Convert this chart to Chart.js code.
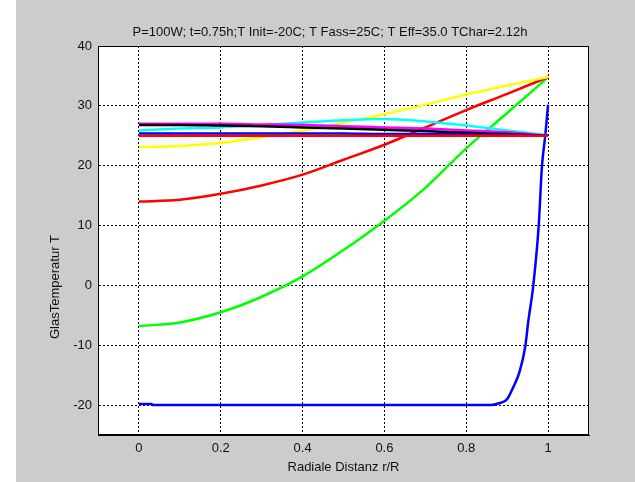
<!DOCTYPE html>
<html>
<head>
<meta charset="utf-8">
<script src="https://cdn.jsdelivr.net/npm/chart.js@4/dist/chart.umd.min.js"></script>
<style>
  html, body { margin: 0; padding: 0; background: #cccccc; }
  canvas { display: block; }
</style>
</head>
<body>
<canvas id="chart" width="635" height="482"></canvas>
<script>
const titleText = "P=100W; t=0.75h;T Init=-20C; T Fass=25C; T Eff=35.0 TChar=2.12h";
const xLabel = "Radiale Distanz r/R";
const yLabel = "GlasTemperatur T";

const xTicks = [0, 0.2, 0.4, 0.6, 0.8, 1];
const yTicks = [-20, -10, 0, 10, 20, 30, 40];

// radial positions for the smooth profiles
const rGrid = [0, 0.1, 0.2, 0.3, 0.4, 0.5, 0.6, 0.7, 0.8, 0.9, 1.0];

const tempGreen   = [-6.8, -6.2, -4.5, -1.9, 1.5, 5.9, 10.8, 16.3, 22.9, 28.8, 34.8];
const tempRed     = [14.0, 14.3, 15.3, 16.7, 18.5, 21.0, 23.5, 26.4, 29.3, 32.0, 34.8];
const tempYellow  = [23.1, 23.3, 23.8, 24.8, 25.8, 27.2, 28.6, 30.2, 31.9, 33.4, 34.8];
const tempCyan    = [25.9, 26.2, 26.4, 26.8, 27.2, 27.6, 27.8, 27.4, 26.7, 25.9, 25.1];
const tempMagenta = [27.0, 27.0, 27.0, 26.9, 26.8, 26.6, 26.4, 26.2, 25.9, 25.6, 25.0];
const tempBlack   = [26.8, 26.8, 26.7, 26.6, 26.4, 26.2, 26.0, 25.8, 25.5, 25.3, 25.0];
const tempBlue2   = [25.4, 25.4, 25.4, 25.4, 25.4, 25.4, 25.3, 25.3, 25.2, 25.1, 25.0];
const tempRed2    = [25.0, 25.0, 25.0, 25.0, 25.0, 25.0, 25.0, 25.0, 25.0, 25.0, 25.0];

// first profile has its own radial points (steep edge)
const rBlue1    = [0, 0.03, 0.035, 0.86, 0.88, 0.9, 0.915, 0.93, 0.944, 0.952, 0.963, 0.977, 0.985, 0.993, 1.0];
const tempBlue1 = [-19.8, -19.8, -20, -20, -19.7, -19.0, -17.0, -14.5, -10.3, -5.8, -0.5, 9.9, 19.9, 25.0, 30.2];

function pts(xs, ys) {
    return xs.map((x, i) => ({x: x, y: ys[i]}));
}

function line(data, color) {
    return {
        data: data,
        borderColor: color,
        backgroundColor: color,
        borderWidth: 2.5,
        pointRadius: 0,
        cubicInterpolationMode: 'monotone',
        fill: false
    };
}

const frame = {
    id: 'frame',
    beforeDraw(chart) {
        const ctx = chart.ctx;
        const a = chart.chartArea;
        ctx.save();
        ctx.fillStyle = '#cccccc';
        ctx.fillRect(0, 0, chart.width, chart.height);
        ctx.fillStyle = '#ffffff';
        ctx.fillRect(0, 0, 16, chart.height);
        ctx.fillRect(a.left, a.top, a.right - a.left, a.bottom - a.top);
        ctx.restore();
    },
    afterDraw(chart) {
        const ctx = chart.ctx;
        const a = chart.chartArea;
        ctx.save();
        ctx.strokeStyle = '#000000';
        ctx.lineWidth = 1;
        ctx.strokeRect(a.left + 0.5, a.top + 0.5, a.right - a.left - 1, a.bottom - a.top - 1);
        ctx.fillStyle = '#111111';
        ctx.font = '13px "Liberation Sans", Arial, sans-serif';
        ctx.textAlign = 'center';
        ctx.textBaseline = 'middle';
        ctx.fillText(titleText, 330, 32);
        ctx.fillText(xLabel, (a.left + a.right) / 2, 467);
        ctx.translate(55, 287);
        ctx.rotate(-Math.PI / 2);
        ctx.fillText(yLabel, 0, 0);
        ctx.restore();
    }
};

const gridOpts = {
    color: '#000000',
    lineWidth: 1,
    drawTicks: false
};

new Chart(document.getElementById('chart'), {
    type: 'line',
    data: {
        datasets: [
            line(pts(rGrid, tempRed2), '#ff0000'),
            line(pts(rGrid, tempBlue2), '#0000ff'),
            line(pts(rGrid, tempBlack), '#000000'),
            line(pts(rGrid, tempMagenta), '#ff00ff'),
            line(pts(rGrid, tempCyan), '#00ffff'),
            line(pts(rGrid, tempYellow), '#ffff00'),
            line(pts(rGrid, tempRed), '#ff0000'),
            line(pts(rGrid, tempGreen), '#00ff00'),
            line(pts(rBlue1, tempBlue1), '#0000ff')
        ]
    },
    options: {
        responsive: false,
        devicePixelRatio: 1,
        animation: false,
        layout: {
            padding: {top: 46, right: 46, bottom: 0, left: 0}
        },
        plugins: {
            legend: {display: false},
            tooltip: {enabled: false}
        },
        scales: {
            x: {
                type: 'linear',
                min: -0.1,
                max: 1.1,
                afterBuildTicks: (scale) => { scale.ticks = xTicks.map(v => ({value: v})); },
                afterFit: (scale) => { scale.height = 47; },
                grid: gridOpts,
                border: {display: true, color: '#000000', dash: [2, 2]},
                ticks: {
                    color: '#111111',
                    padding: 6,
                    maxRotation: 0,
                    font: {family: '"Liberation Sans", Arial, sans-serif', size: 13},
                    callback: (v) => String(Math.round(v * 10) / 10)
                }
            },
            y: {
                type: 'linear',
                min: -25,
                max: 40,
                afterBuildTicks: (scale) => { scale.ticks = yTicks.map(v => ({value: v})); },
                afterFit: (scale) => { scale.width = 98; },
                grid: gridOpts,
                border: {display: true, color: '#000000', dash: [2, 2]},
                ticks: {
                    color: '#111111',
                    padding: 6,
                    font: {family: '"Liberation Sans", Arial, sans-serif', size: 13}
                }
            }
        }
    },
    plugins: [frame]
});
</script>
</body>
</html>
